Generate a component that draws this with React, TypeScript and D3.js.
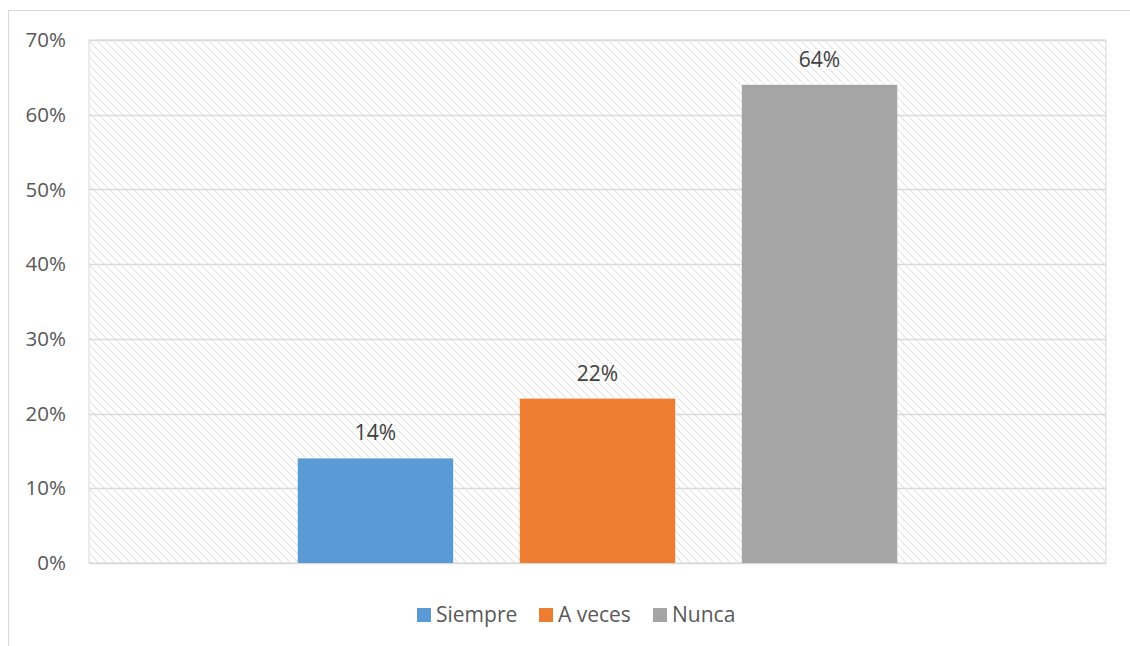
import React, { useRef, useEffect } from 'react'
import * as d3 from 'd3'

const width = 1130
const height = 646

const seriesNames = ['Siempre', 'A veces', 'Nunca']
const seriesValues = [0.14, 0.22, 0.64]
const seriesColors = ['#5b9bd5', '#ed7d31', '#a5a5a5']
const yTicks = [0, 0.1, 0.2, 0.3, 0.4, 0.5, 0.6, 0.7]

const margin = { top: 40, right: 24, bottom: 83, left: 89 }
const font = '"Open Sans", "Noto Sans", sans-serif'

const App: React.FC = () => {
  const svgRef = useRef<SVGSVGElement>(null)

  useEffect(() => {
    if (!svgRef.current) return
    const svg = d3.select(svgRef.current)
    svg.selectAll('*').remove()

    const x0 = margin.left
    const x1 = width - margin.right
    const y0 = height - margin.bottom

    // hatch pattern for the plot area
    const defs = svg.append('defs')
    const pat = defs.append('pattern')
      .attr('id', 'hatch')
      .attr('patternUnits', 'userSpaceOnUse')
      .attr('width', 8)
      .attr('height', 8)
    pat.append('rect').attr('width', 8).attr('height', 8).attr('fill', '#fff')
    pat.append('path')
      .attr('d', 'M-2,-2 L10,10 M-2,6 L2,10 M6,-2 L10,2')
      .attr('stroke', '#dcdcdc')
      .attr('stroke-width', 1.3)
      .attr('stroke-dasharray', '1.5,1')

    // outer chart frame
    svg.append('rect')
      .attr('x', 8.5).attr('y', 10.5)
      .attr('width', width).attr('height', height)
      .attr('fill', '#fff')
      .attr('stroke', '#d9d9d9')

    const y = d3.scaleLinear().domain([0, 0.7]).range([y0, margin.top])
    const groupX = d3.scaleBand().domain(['g']).range([x0, x1])
    const seriesX = d3.scaleBand()
      .domain(seriesNames)
      .range([0, groupX.bandwidth()])
      .paddingInner(0.3)
      .paddingOuter(0.94)

    svg.append('rect')
      .attr('x', x0).attr('y', margin.top)
      .attr('width', x1 - x0).attr('height', y0 - margin.top)
      .attr('fill', 'url(#hatch)')
      .attr('stroke', '#d9d9d9')

    svg.append('g')
      .selectAll('line')
      .data(yTicks)
      .join('line')
      .attr('x1', x0).attr('x2', x1)
      .attr('y1', d => Math.round(y(d)) + 0.5)
      .attr('y2', d => Math.round(y(d)) + 0.5)
      .attr('stroke', '#d9d9d9')
      .attr('stroke-width', 1.5)

    svg.append('g')
      .selectAll('text')
      .data(yTicks)
      .join('text')
      .attr('x', 66)
      .attr('y', d => y(d))
      .attr('dy', '0.35em')
      .attr('text-anchor', 'end')
      .attr('font-family', font)
      .attr('font-size', 20.5)
      .attr('fill', '#595959')
      .text(d => d3.format('.0%')(d))

    const gx = groupX('g') || 0
    svg.append('g')
      .selectAll('rect')
      .data(seriesValues)
      .join('rect')
      .attr('x', (_, i) => gx + (seriesX(seriesNames[i]) || 0))
      .attr('y', d => y(d))
      .attr('width', seriesX.bandwidth())
      .attr('height', d => y0 - y(d))
      .attr('fill', (_, i) => seriesColors[i])

    svg.append('g')
      .selectAll('text')
      .data(seriesValues)
      .join('text')
      .attr('x', (_, i) => gx + (seriesX(seriesNames[i]) || 0) + seriesX.bandwidth() / 2)
      .attr('y', d => y(d) - 18)
      .attr('text-anchor', 'middle')
      .attr('font-family', font)
      .attr('font-size', 21)
      .attr('fill', '#404040')
      .text(d => d3.format('.0%')(d))

    // legend
    const legendX = [417, 539, 653]
    const legend = svg.append('g')
    seriesNames.forEach((name, i) => {
      legend.append('rect')
        .attr('x', legendX[i]).attr('y', 608)
        .attr('width', 14).attr('height', 14)
        .attr('fill', seriesColors[i])
      legend.append('text')
        .attr('x', legendX[i] + 19).attr('y', 622)
        .attr('font-family', font)
        .attr('font-size', 21)
        .attr('fill', '#595959')
        .text(name)
    })
  }, [])

  return (
    <svg
      ref={svgRef}
      width={width}
      height={height}
      style={{ position: 'absolute', left: 0, top: 0, display: 'block' }}
    />
  )
}

export default App
